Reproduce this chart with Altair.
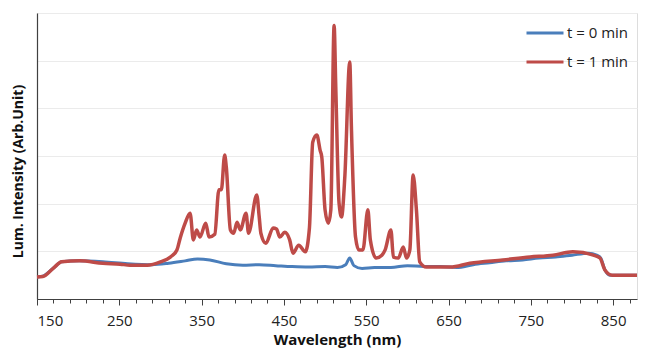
import altair as alt
import pandas as pd

# Wavelength (nm) and luminescence intensity (arb. unit)
blue_wl = [150, 157, 170, 180, 200, 230, 260, 290, 310, 330, 345, 360, 380, 400, 420,
           440, 460, 480, 500, 515, 525, 530, 535, 545, 560, 580, 600, 620, 640, 660,
           680, 700, 720, 740, 760, 780, 800, 820, 830, 835, 840, 846, 860, 879]
blue_val = [0.46, 0.48, 0.65, 0.78, 0.80, 0.78, 0.74, 0.72, 0.75, 0.80, 0.84, 0.82, 0.74, 0.71, 0.72,
            0.70, 0.68, 0.67, 0.68, 0.66, 0.72, 0.86, 0.70, 0.64, 0.66, 0.66, 0.70, 0.68, 0.68, 0.66,
            0.72, 0.76, 0.80, 0.82, 0.86, 0.88, 0.92, 0.96, 0.92, 0.86, 0.61, 0.50, 0.50, 0.50]

red_wl = [150, 157, 170, 180, 202, 230, 251, 263, 284, 300, 312, 320, 324, 330, 336, 340, 344,
          348, 355, 359, 366, 371, 374, 378, 380, 385, 389, 393, 397, 404, 407, 417, 420, 422,
          428, 437, 441, 445, 451, 457, 461, 468, 476, 481, 485, 490, 494, 496, 500, 504, 507,
          511, 513, 517, 520, 524, 530, 532, 537, 541, 546, 552, 555, 562, 569, 573, 580, 583,
          589, 595, 599, 603, 607, 611, 615, 623, 640, 652, 676, 716, 749, 777, 801, 826, 834,
          840, 849, 879]
red_val = [0.46, 0.47, 0.65, 0.78, 0.80, 0.75, 0.73, 0.71, 0.71, 0.78, 0.88, 1.03, 1.28, 1.59, 1.80, 1.24, 1.45,
           1.30, 1.59, 1.30, 1.36, 2.29, 2.29, 3.02, 2.77, 1.45, 1.38, 1.61, 1.45, 1.80, 1.38, 2.18, 1.72, 1.38,
           1.17, 1.49, 1.47, 1.30, 1.40, 1.24, 0.96, 1.13, 0.99, 1.49, 3.29, 3.44, 3.12, 2.98, 1.87, 1.59, 1.87,
           5.74, 4.45, 2.01, 1.72, 2.56, 4.97, 3.61, 1.30, 1.03, 1.03, 1.87, 1.24, 0.86, 0.92, 1.03, 1.45, 0.88,
           0.86, 1.09, 0.86, 1.03, 2.60, 1.87, 0.78, 0.67, 0.67, 0.67, 0.75, 0.82, 0.88, 0.92, 0.99, 0.92, 0.86,
           0.61, 0.50, 0.50]

series_names = ["t = 0 min", "t = 1 min"]
series_colors = ["#4A7EBB", "#BE4B48"]
major_ticks = [150, 250, 350, 450, 550, 650, 750, 850]
minor_ticks = list(range(150, 880, 20))
y_grid = [0, 1, 2, 3, 4, 5, 6]

df_blue = pd.DataFrame({"wl": blue_wl, "val": blue_val, "series": series_names[0]})
df_red = pd.DataFrame({"wl": red_wl, "val": red_val, "series": series_names[1]})

FONT = "Open Sans"

xscale = alt.Scale(domain=[150, 879], nice=False, zero=False)
yscale = alt.Scale(domain=[0, 6], nice=False)
color = alt.Color("series:N", scale=alt.Scale(domain=series_names, range=series_colors),
                  legend=alt.Legend(title=None, orient="none", legendX=488, legendY=0,
                                    symbolType="stroke", symbolSize=1369, symbolStrokeWidth=3,
                                    labelFontSize=15, labelFont=FONT, labelColor="#222222",
                                    labelOffset=2, rowPadding=1, padding=0))

yaxis = alt.Axis(values=y_grid, labels=False, ticks=False, grid=True, gridColor="#ebebeb",
                 domainColor="#404040", domainWidth=1.2,
                 title="Lum. Intensity (Arb.Unit)", titleFont=FONT, titleFontSize=14,
                 titleFontWeight="bold", titleColor="#111111", titleAngle=270,
                 titleX=-19, titleY=158, titleAlign="center", titleBaseline="middle")

xaxis_major = alt.Axis(orient="bottom", values=major_ticks, grid=False, tickSize=6,
                       tickColor="#404040", domainColor="#404040", domainWidth=1.2,
                       labelFont=FONT, labelFontSize=15, labelColor="#222222", labelPadding=8,
                       title="Wavelength (nm)", titleFont=FONT, titleFontSize=15,
                       titleFontWeight="bold", titleColor="#111111", titlePadding=4)
xaxis_minor = alt.Axis(orient="bottom", values=minor_ticks, grid=False, labels=False, domain=False,
                       tickSize=4, tickColor="#404040", title=None)

blue = alt.Chart(df_blue).mark_line(strokeWidth=3, interpolate="monotone").encode(
    x=alt.X("wl:Q", scale=xscale, axis=xaxis_major),
    y=alt.Y("val:Q", scale=yscale, axis=yaxis),
    color=color,
)
red = alt.Chart(df_red).mark_line(strokeWidth=3.5, interpolate="monotone").encode(
    x=alt.X("wl:Q", scale=xscale, axis=xaxis_major),
    y=alt.Y("val:Q", scale=yscale, axis=yaxis),
    color=color,
)
minor = alt.Chart(df_red).mark_line(opacity=0).encode(
    x=alt.X("wl:Q", scale=xscale, axis=xaxis_minor),
    y=alt.Y("val:Q", scale=yscale, axis=yaxis),
)

main = alt.layer(blue, red)
chart = alt.layer(main, minor).resolve_axis(x="independent").properties(
    width=600, height=286,
    autosize=alt.AutoSizeParams(type="none"),
    padding={"left": 29, "top": 5, "right": 1, "bottom": 50},
).configure_view(stroke=None).configure(background="white")

chart.save("out.html", embed_options={"renderer": "svg", "actions": False})
